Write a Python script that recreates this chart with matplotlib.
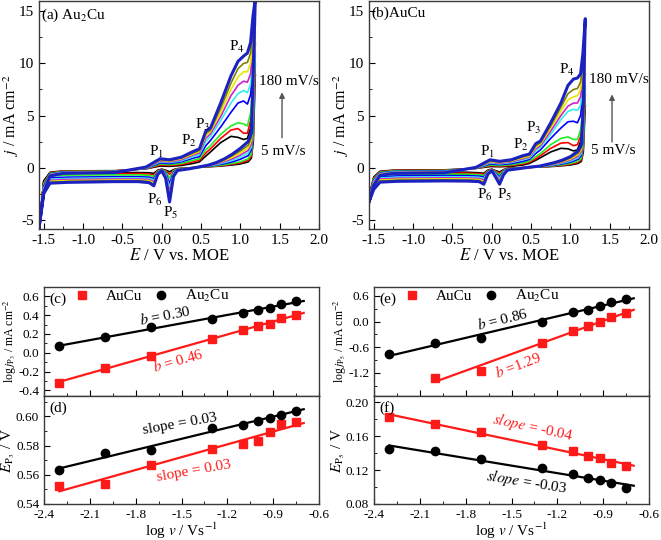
import numpy as np
import matplotlib
matplotlib.use("Agg")
import matplotlib.pyplot as plt
from matplotlib.ticker import MultipleLocator, FormatStrFormatter

plt.rcParams['font.family'] = ['Liberation Serif', 'DejaVu Serif']
plt.rcParams['mathtext.fontset'] = 'stix'
plt.rcParams['axes.unicode_minus'] = False

# ---- CV data (scan rates 5,10,20,50,80,100,120,140,180 mV/s) ----
rates = [5, 10, 20, 50, 80, 100, 120, 140, 180]
cv_colors = ['#000000', '#ff0000', '#22ee22', '#0000ff', '#33eeee',
             '#cc22cc', '#e6e600', '#808000', '#1c22c0']

E_an = [-1.56, -1.50, -1.42, -1.25, -0.60, -0.20, -0.02, 0.10, 0.25, 0.40, 0.48,
        0.56, 0.62, 0.75, 0.88, 0.97, 1.04, 1.09, 1.13, 1.16, 1.19]
E_ca = [1.19, 1.165, 1.14, 1.10, 1.00, 0.90, 0.80, 0.70, 0.60, 0.50, 0.35, 0.20,
        0.15, 0.10, 0.05, 0.00, -0.05, -0.10, -0.16, -0.30, -0.60, -1.20, -1.42,
        -1.50, -1.56]

# (a) Au2Cu
a_an = [
    [-5.8, -1.3, -0.45, -0.32, -0.30, -0.12, 0.15, 0.12, 0.20, 0.40, 0.55, 1.10, 1.50, 2.40, 3.00, 2.90, 2.70, 2.80, 3.8, 6.0, 9.0],
    [-5.8, -1.5, -0.50, -0.34, -0.32, -0.12, 0.25, 0.20, 0.30, 0.55, 0.70, 1.40, 1.80, 2.80, 3.60, 3.75, 3.30, 3.30, 4.5, 7.0, 10.0],
    [-5.8, -1.6, -0.55, -0.38, -0.35, -0.10, 0.35, 0.28, 0.40, 0.70, 0.85, 1.70, 2.10, 3.20, 4.00, 4.30, 4.20, 4.00, 5.2, 8.0, 11.0],
    [-5.8, -1.8, -0.60, -0.42, -0.38, -0.08, 0.45, 0.38, 0.55, 0.90, 1.05, 2.10, 2.60, 3.90, 5.30, 6.20, 6.40, 6.10, 7.0, 9.5, 12.0],
    [-5.8, -2.0, -0.65, -0.45, -0.40, -0.05, 0.55, 0.48, 0.65, 1.05, 1.25, 2.50, 3.00, 4.50, 6.20, 7.10, 7.40, 7.20, 8.0, 10.5, 13.0],
    [-5.8, -2.1, -0.70, -0.48, -0.42, -0.03, 0.62, 0.55, 0.75, 1.20, 1.40, 2.80, 3.25, 4.90, 6.90, 7.90, 8.30, 8.20, 9.0, 11.5, 14.0],
    [-5.8, -2.2, -0.72, -0.50, -0.44, 0.00, 0.70, 0.62, 0.85, 1.30, 1.55, 3.05, 3.45, 5.30, 7.50, 8.70, 9.20, 9.20, 10.0, 12.5, 14.8],
    [-5.8, -2.3, -0.76, -0.53, -0.46, 0.02, 0.76, 0.68, 0.92, 1.40, 1.65, 3.25, 3.60, 5.70, 8.10, 9.50, 10.00, 10.10, 11.0, 13.5, 15.5],
    [-5.8, -2.4, -0.80, -0.55, -0.48, 0.05, 0.85, 0.75, 1.00, 1.55, 1.80, 3.50, 3.80, 6.20, 8.80, 10.20, 10.70, 11.00, 12.0, 14.5, 16.2],
]
a_ca = [
    [9.0, 2.5, 0.9, 0.55, 0.35, 0.25, 0.18, 0.12, 0.08, 0.03, -0.02, -0.10, -0.20, -0.40, -0.25, -0.15, -0.25, -0.55, -0.50, -0.48, -0.48, -0.50, -0.55, -1.30, -5.8],
    [10.0, 3.0, 1.1, 0.70, 0.45, 0.32, 0.22, 0.15, 0.10, 0.04, -0.03, -0.12, -0.25, -0.65, -0.30, -0.18, -0.30, -0.70, -0.62, -0.58, -0.58, -0.60, -0.65, -1.50, -5.8],
    [11.0, 3.5, 1.3, 0.85, 0.55, 0.40, 0.28, 0.18, 0.12, 0.05, -0.04, -0.14, -0.32, -1.00, -0.38, -0.20, -0.35, -0.85, -0.75, -0.70, -0.70, -0.72, -0.78, -1.70, -5.8],
    [12.0, 4.5, 1.7, 1.15, 0.80, 0.55, 0.38, 0.25, 0.15, 0.06, -0.06, -0.18, -0.45, -1.50, -0.50, -0.22, -0.42, -1.05, -0.92, -0.88, -0.88, -0.92, -0.98, -1.90, -5.8],
    [13.0, 5.5, 2.0, 1.40, 1.00, 0.70, 0.48, 0.30, 0.18, 0.07, -0.08, -0.20, -0.55, -1.90, -0.60, -0.25, -0.48, -1.20, -1.05, -1.00, -1.00, -1.05, -1.12, -2.00, -5.8],
    [14.0, 6.5, 2.3, 1.65, 1.20, 0.85, 0.58, 0.36, 0.20, 0.08, -0.09, -0.22, -0.62, -2.30, -0.70, -0.27, -0.52, -1.35, -1.15, -1.10, -1.10, -1.15, -1.22, -2.10, -5.8],
    [14.8, 7.5, 2.6, 1.90, 1.40, 1.00, 0.68, 0.42, 0.22, 0.09, -0.10, -0.24, -0.70, -2.70, -0.80, -0.28, -0.56, -1.50, -1.25, -1.20, -1.20, -1.25, -1.32, -2.20, -5.8],
    [15.5, 8.5, 2.9, 2.15, 1.60, 1.15, 0.78, 0.48, 0.24, 0.10, -0.11, -0.26, -0.78, -3.00, -0.90, -0.30, -0.60, -1.62, -1.35, -1.28, -1.28, -1.35, -1.42, -2.30, -5.8],
    [16.2, 9.5, 3.3, 2.50, 1.85, 1.30, 0.85, 0.50, 0.25, 0.10, -0.12, -0.28, -0.85, -3.30, -1.00, -0.32, -0.65, -1.75, -1.45, -1.35, -1.35, -1.42, -1.50, -2.50, -5.8],
]

# (b) AuCu
b_an = [
    [-2.8, -0.9, -0.35, -0.25, -0.22, -0.08, 0.10, 0.08, 0.12, 0.25, 0.40, 0.70, 0.95, 1.50, 1.85, 1.80, 1.60, 1.70, 2.5, 4.0, 6.0],
    [-2.9, -1.0, -0.40, -0.28, -0.25, -0.08, 0.18, 0.14, 0.20, 0.35, 0.50, 0.85, 1.15, 1.85, 2.35, 2.40, 2.10, 2.20, 3.0, 4.8, 7.0],
    [-3.0, -1.1, -0.45, -0.32, -0.28, -0.07, 0.25, 0.20, 0.28, 0.45, 0.62, 1.05, 1.35, 2.20, 2.80, 2.95, 2.70, 2.70, 3.6, 5.5, 7.8],
    [-3.0, -1.2, -0.52, -0.38, -0.33, -0.06, 0.35, 0.28, 0.38, 0.60, 0.78, 1.35, 1.70, 2.80, 3.80, 4.40, 4.45, 4.30, 5.0, 7.0, 9.0],
    [-3.1, -1.3, -0.58, -0.42, -0.37, -0.05, 0.45, 0.36, 0.48, 0.75, 0.92, 1.60, 1.95, 3.20, 4.60, 5.40, 5.60, 5.50, 6.0, 8.0, 10.0],
    [-3.1, -1.4, -0.62, -0.46, -0.40, -0.04, 0.52, 0.42, 0.55, 0.85, 1.02, 1.80, 2.10, 3.50, 5.00, 5.90, 6.20, 6.20, 6.8, 8.8, 11.0],
    [-3.2, -1.5, -0.66, -0.50, -0.44, -0.02, 0.58, 0.48, 0.62, 0.95, 1.10, 1.95, 2.25, 3.80, 5.40, 6.50, 6.80, 6.90, 7.5, 9.5, 12.0],
    [-3.2, -1.6, -0.70, -0.53, -0.47, 0.00, 0.65, 0.54, 0.68, 1.05, 1.20, 2.10, 2.40, 4.00, 5.80, 7.10, 7.50, 7.60, 8.2, 10.2, 13.0],
    [-3.3, -1.7, -0.75, -0.56, -0.50, 0.02, 0.75, 0.60, 0.75, 1.15, 1.30, 2.30, 2.55, 4.30, 6.20, 7.90, 8.50, 8.60, 9.0, 11.0, 14.3],
]
b_ca = [
    [6.0, 1.5, 0.6, 0.40, 0.25, 0.18, 0.12, 0.08, 0.05, 0.02, -0.02, -0.08, -0.20, -0.42, -0.30, -0.15, -0.25, -0.55, -0.50, -0.45, -0.44, -0.45, -0.50, -1.2, -2.8],
    [7.0, 1.9, 0.75, 0.50, 0.32, 0.22, 0.15, 0.10, 0.06, 0.02, -0.03, -0.10, -0.25, -0.55, -0.36, -0.17, -0.30, -0.65, -0.58, -0.54, -0.53, -0.55, -0.60, -1.3, -2.9],
    [7.8, 2.3, 0.90, 0.62, 0.40, 0.28, 0.19, 0.12, 0.07, 0.03, -0.04, -0.12, -0.30, -0.70, -0.42, -0.19, -0.35, -0.78, -0.68, -0.64, -0.63, -0.65, -0.72, -1.4, -3.0],
    [9.0, 3.0, 1.15, 0.80, 0.52, 0.36, 0.24, 0.15, 0.08, 0.03, -0.05, -0.15, -0.38, -0.90, -0.52, -0.21, -0.42, -0.92, -0.82, -0.78, -0.77, -0.80, -0.88, -1.6, -3.0],
    [10.0, 3.6, 1.35, 0.95, 0.62, 0.43, 0.29, 0.18, 0.09, 0.04, -0.06, -0.17, -0.45, -1.05, -0.60, -0.23, -0.47, -1.05, -0.94, -0.90, -0.88, -0.92, -1.00, -1.7, -3.1],
    [11.0, 4.2, 1.55, 1.10, 0.72, 0.50, 0.34, 0.21, 0.10, 0.04, -0.07, -0.19, -0.52, -1.20, -0.68, -0.25, -0.52, -1.20, -1.05, -1.00, -0.98, -1.02, -1.10, -1.8, -3.1],
    [12.0, 4.8, 1.75, 1.25, 0.82, 0.57, 0.38, 0.24, 0.11, 0.05, -0.08, -0.21, -0.58, -1.35, -0.76, -0.27, -0.57, -1.35, -1.15, -1.10, -1.08, -1.12, -1.20, -1.9, -3.2],
    [13.0, 5.4, 1.95, 1.40, 0.92, 0.63, 0.42, 0.26, 0.12, 0.05, -0.09, -0.23, -0.64, -1.48, -0.84, -0.29, -0.61, -1.48, -1.25, -1.20, -1.18, -1.22, -1.30, -2.0, -3.2],
    [14.3, 6.0, 2.20, 1.60, 1.05, 0.72, 0.48, 0.30, 0.13, 0.06, -0.10, -0.25, -0.70, -1.60, -0.92, -0.30, -0.65, -1.60, -1.35, -1.30, -1.28, -1.32, -1.40, -2.1, -3.3],
]

# ---- kinetics data ----
logv = [-2.3, -2.0, -1.7, -1.3, -1.1, -1.0, -0.92, -0.85, -0.75]
logjP3_au2cu = [0.07, 0.17, 0.27, 0.36, 0.42, 0.45, 0.48, 0.52, 0.55]
logjP3_aucu = [-0.32, -0.16, -0.03, 0.15, 0.24, 0.28, 0.31, 0.37, 0.40]
EP3_au2cu = [0.563, 0.575, 0.577, 0.592, 0.594, 0.597, 0.599, 0.601, 0.604]
EP3_aucu = [0.552, 0.554, 0.567, 0.578, 0.581, 0.583, 0.589, 0.595, 0.596]
logjP5_au2cu = [-0.76, -0.51, -0.39, -0.01, 0.22, 0.28, 0.36, 0.46, 0.53]
logv_P5_aucu = [-2.0, -1.7, -1.3, -1.1, -1.0, -0.92, -0.85, -0.75]
logjP5_aucu = [-1.31, -1.15, -0.51, -0.23, -0.10, 0.0, 0.11, 0.20]
EP5_au2cu = [0.145, 0.142, 0.133, 0.122, 0.116, 0.111, 0.108, 0.105, 0.099]
EP5_aucu = [0.183, 0.175, 0.165, 0.150, 0.143, 0.137, 0.134, 0.128, 0.125]

W, H = 661, 540
fig = plt.figure(figsize=(W / 100, H / 100), dpi=100)


def box(l, t, r, b):
    return [l / W, 1 - b / H, (r - l) / W, (b - t) / H]


spine_c = '#3a3a3a'


def style(ax, fs):
    for s in ax.spines.values():
        s.set_color(spine_c)
        s.set_linewidth(1.0)
    ax.tick_params(which='both', direction='in', labelsize=fs, colors='black')
    ax.tick_params(which='major', length=4)
    ax.tick_params(which='minor', length=2)


def cv_panel(ax, an, ca, title, pl, arrow_y, lab_y):
    for i in range(len(rates)):
        E = E_an + E_ca
        j = an[i] + ca[i]
        lw = 2.2 if i == len(rates) - 1 else 1.2
        ax.plot(E, j, color=cv_colors[i], lw=lw)
    ax.set_xlim(-1.56, 2.0)
    ax.set_ylim(-5.9, 16)
    ax.xaxis.set_major_locator(MultipleLocator(0.5))
    ax.xaxis.set_minor_locator(MultipleLocator(0.25))
    ax.yaxis.set_major_locator(MultipleLocator(5))
    ax.yaxis.set_minor_locator(MultipleLocator(2.5))
    ax.xaxis.set_major_formatter(FormatStrFormatter('%.1f'))
    style(ax, 11)
    ax.set_xlabel(r'$E$ / V vs. MOE', fontsize=12, labelpad=1)
    ax.set_ylabel(r'$j$ / mA cm$^{-2}$', fontsize=11.5)
    ax.yaxis.set_label_coords(-0.066, 0.5)
    ax.text(-1.53, 15.5, title, fontsize=11, va='top')
    for txt, (x, y) in pl.items():
        ax.text(x, y, txt, fontsize=11, ha='center', va='center')
    ax.annotate('', xy=(1.53, arrow_y[1]), xytext=(1.53, arrow_y[0]),
                arrowprops=dict(arrowstyle='-|>', color='#555555', lw=1.0,
                                mutation_scale=8))
    ax.text(1.62, lab_y[1], '180 mV/s', fontsize=11, ha='center', va='center')
    ax.text(1.55, lab_y[0], '5 mV/s', fontsize=11, ha='center', va='center')


ax_a = fig.add_axes(box(39, 1, 319, 229))
cv_panel(ax_a, a_an, a_ca, r'(a) Au$_2$Cu',
         {r'P$_1$': (-0.07, 1.5), r'P$_2$': (0.35, 2.6), r'P$_3$': (0.52, 4.1),
          r'P$_4$': (0.95, 11.6), r'P$_6$': (-0.09, -3.1), r'P$_5$': (0.12, -4.4)},
         (2.6, 7.5), (1.5, 8.3))

ax_b = fig.add_axes(box(369, 1, 649, 229))
cv_panel(ax_b, b_an, b_ca, r'(b)AuCu',
         {r'P$_1$': (-0.05, 1.5), r'P$_2$': (0.37, 2.2), r'P$_3$': (0.54, 3.8),
          r'P$_4$': (0.95, 9.4), r'P$_6$': (-0.09, -2.6), r'P$_5$': (0.16, -2.6)},
         (2.2, 7.3), (1.6, 8.5))


def kin_axes(l, r, t, b, xlabels):
    ax = fig.add_axes(box(l, t, r, b))
    ax.set_xlim(-2.4, -0.6)
    ax.xaxis.set_major_locator(MultipleLocator(0.3))
    ax.xaxis.set_minor_locator(MultipleLocator(0.15))
    ax.xaxis.set_major_formatter(FormatStrFormatter('%.1f'))
    style(ax, 9.5)
    if not xlabels:
        ax.tick_params(axis='x', labelbottom=False)
    else:
        ax.set_xlabel(r'log $v$ / Vs$^{-1}$', fontsize=11, labelpad=0)
    return ax


def fit_line(ax, x, y, color, x0, x1):
    k, c = np.polyfit(x, y, 1)
    xs = np.array([x0, x1])
    ax.plot(xs, k * xs + c, color=color, lw=1.6, zorder=2)


def legend(ax):
    ax.legend(loc='center left', bbox_to_anchor=(0.109, 0.917), ncol=2,
              frameon=False, fontsize=11, handlelength=1.0, handletextpad=1.1,
              columnspacing=0.7, borderpad=0, borderaxespad=0)


red = '#ff1a1a'

# (c)
ax_c = kin_axes(44, 319, 287, 396, False)
ax_c.plot(logv, logjP3_aucu, 's', color=red, ms=5.5, label='AuCu', zorder=3)
ax_c.plot(logv, logjP3_au2cu, 'o', color='black', ms=6, label=r'Au$_2$Cu', zorder=3)
fit_line(ax_c, logv, logjP3_au2cu, 'black', -2.3, -0.7)
fit_line(ax_c, logv, logjP3_aucu, red, -2.3, -0.7)
ax_c.set_ylim(-0.46, 0.7)
ax_c.yaxis.set_major_locator(MultipleLocator(0.2))
ax_c.yaxis.set_minor_locator(MultipleLocator(0.1))
ax_c.yaxis.set_major_formatter(FormatStrFormatter('%.1f'))
ax_c.set_ylabel(r'log$\,j_{\mathrm{P}_3}$ / mA cm$^{-2}$', fontsize=8.5)
ax_c.yaxis.set_label_coords(-0.09, 0.5)
ax_c.text(0.02, 0.95, '(c)', transform=ax_c.transAxes, fontsize=11, va='top')
legend(ax_c)
ax_c.text(-1.61, 0.40, r'$b$ = 0.30', fontsize=11, rotation=11, ha='center', va='center')
ax_c.text(-1.52, -0.08, r'$b$ = 0.46', fontsize=11, rotation=16, ha='center',
          va='center', color=red)

# (d)
ax_d = kin_axes(44, 319, 396, 504, True)
ax_d.plot(logv, EP3_aucu, 's', color=red, ms=5.5, zorder=3)
ax_d.plot(logv, EP3_au2cu, 'o', color='black', ms=6, zorder=3)
fit_line(ax_d, logv, EP3_au2cu, 'black', -2.3, -0.7)
fit_line(ax_d, logv, EP3_aucu, red, -2.3, -0.7)
ax_d.set_ylim(0.54, 0.614)
ax_d.yaxis.set_major_locator(MultipleLocator(0.02))
ax_d.yaxis.set_minor_locator(MultipleLocator(0.01))
ax_d.yaxis.set_major_formatter(FormatStrFormatter('%.2f'))
ax_d.set_ylabel(r'$E_{\mathrm{P}_3}$ / V', fontsize=11)
ax_d.yaxis.set_label_coords(-0.098, 0.5)
ax_d.text(0.02, 0.95, '(d)', transform=ax_d.transAxes, fontsize=11, va='top')
ax_d.text(-1.51, 0.5945, 'slope = 0.03', fontsize=11, rotation=10, ha='center', va='center')
ax_d.text(-1.42, 0.5625, 'slope = 0.03', fontsize=11, rotation=10, ha='center',
          va='center', color=red)

# (e)
ax_e = kin_axes(374, 649, 287, 396, False)
ax_e.plot(logv_P5_aucu, logjP5_aucu, 's', color=red, ms=5.5, label='AuCu', zorder=3)
ax_e.plot(logv, logjP5_au2cu, 'o', color='black', ms=6, label=r'Au$_2$Cu', zorder=3)
fit_line(ax_e, logv, logjP5_au2cu, 'black', -2.3, -0.7)
fit_line(ax_e, logv_P5_aucu, logjP5_aucu, red, -2.0, -0.7)
ax_e.set_ylim(-1.74, 0.81)
ax_e.yaxis.set_major_locator(MultipleLocator(0.6))
ax_e.yaxis.set_minor_locator(MultipleLocator(0.3))
ax_e.yaxis.set_major_formatter(FormatStrFormatter('%.1f'))
ax_e.set_ylabel(r'log$\,j_{\mathrm{P}_5}$ / mA cm$^{-2}$', fontsize=8.5)
ax_e.yaxis.set_label_coords(-0.09, 0.5)
ax_e.text(0.02, 0.95, '(e)', transform=ax_e.transAxes, fontsize=11, va='top')
legend(ax_e)
ax_e.text(-1.56, 0.06, r'$b$ = 0.86', fontsize=11, rotation=14, ha='center', va='center')
ax_e.text(-1.46, -1.0, r'$b$ =1.29', fontsize=11, rotation=21, ha='center',
          va='center', color=red)

# (f)
ax_f = kin_axes(374, 649, 396, 504, True)
ax_f.plot(logv, EP5_aucu, 's', color=red, ms=5.5, zorder=3)
ax_f.plot(logv, EP5_au2cu, 'o', color='black', ms=6, zorder=3)
fit_line(ax_f, logv, EP5_aucu, red, -2.3, -0.7)
fit_line(ax_f, logv, EP5_au2cu, 'black', -2.3, -0.7)
ax_f.set_ylim(0.08, 0.2075)
ax_f.yaxis.set_major_locator(MultipleLocator(0.04))
ax_f.yaxis.set_minor_locator(MultipleLocator(0.02))
ax_f.yaxis.set_major_formatter(FormatStrFormatter('%.2f'))
ax_f.set_ylabel(r'$E_{\mathrm{P}_5}$ / V', fontsize=11)
ax_f.yaxis.set_label_coords(-0.098, 0.5)
ax_f.text(0.02, 0.95, '(f)', transform=ax_f.transAxes, fontsize=11, va='top')
ax_f.text(-1.36, 0.171, r'$slope$ = -0.04', fontsize=11, rotation=-12, ha='center',
          va='center', color=red)
ax_f.text(-1.40, 0.106, r'$slope$ = -0.03', fontsize=11, rotation=-9, ha='center',
          va='center')

fig.savefig('out.png', dpi=100)
